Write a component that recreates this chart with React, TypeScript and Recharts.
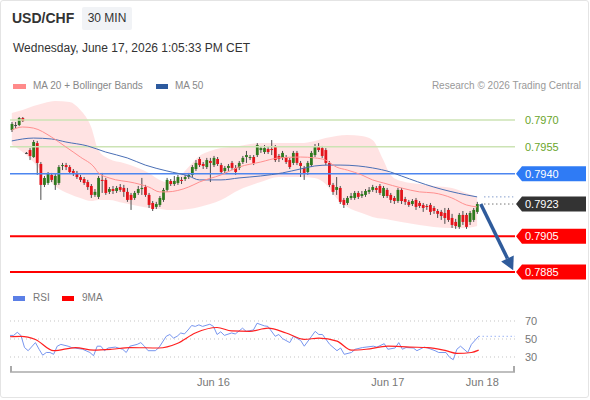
import React from "react"
import { ComposedChart, Bar, Line, Area, XAxis, YAxis, ReferenceLine } from "recharts"

const FONT = '"Liberation Sans", Arial, Helvetica, sans-serif'
const SLOT_COUNT = 140

// 30 min candles: [open, high, low, close]
const CANDLES: number[][] = [
  [0.79644, 0.79689, 0.79633, 0.79678], [0.79672, 0.79689, 0.79655, 0.79672], [0.79672, 0.79717, 0.79666, 0.79711], [0.79711, 0.79717, 0.79689, 0.79694],
  [0.79516, 0.79521, 0.79510, 0.79516], [0.79532, 0.79543, 0.79476, 0.79499], [0.79493, 0.79588, 0.79488, 0.79577], [0.79571, 0.79583, 0.79393, 0.79460],
  [0.79454, 0.79465, 0.79253, 0.79337], [0.79337, 0.79387, 0.79325, 0.79376], [0.79348, 0.79409, 0.79337, 0.79398], [0.79393, 0.79404, 0.79353, 0.79365],
  [0.79337, 0.79398, 0.79309, 0.79387], [0.79348, 0.79448, 0.79337, 0.79437], [0.79443, 0.79460, 0.79420, 0.79448], [0.79448, 0.79460, 0.79420, 0.79437],
  [0.79437, 0.79448, 0.79398, 0.79409], [0.79415, 0.79426, 0.79387, 0.79404], [0.79404, 0.79415, 0.79370, 0.79381], [0.79381, 0.79393, 0.79353, 0.79365],
  [0.79370, 0.79381, 0.79337, 0.79348], [0.79353, 0.79365, 0.79309, 0.79325], [0.79331, 0.79342, 0.79264, 0.79281], [0.79281, 0.79314, 0.79270, 0.79298],
  [0.79270, 0.79387, 0.79258, 0.79376], [0.79365, 0.79404, 0.79292, 0.79359], [0.79365, 0.79376, 0.79281, 0.79292], [0.79298, 0.79325, 0.79286, 0.79314],
  [0.79314, 0.79331, 0.79286, 0.79303], [0.79303, 0.79331, 0.79292, 0.79320], [0.79325, 0.79342, 0.79298, 0.79309], [0.79320, 0.79337, 0.79270, 0.79298],
  [0.79298, 0.79320, 0.79242, 0.79253], [0.79281, 0.79292, 0.79197, 0.79253], [0.79264, 0.79303, 0.79253, 0.79292], [0.79292, 0.79331, 0.79281, 0.79314],
  [0.79314, 0.79376, 0.79281, 0.79320], [0.79325, 0.79337, 0.79270, 0.79281], [0.79281, 0.79292, 0.79208, 0.79225], [0.79236, 0.79247, 0.79191, 0.79202],
  [0.79214, 0.79242, 0.79202, 0.79230], [0.79225, 0.79275, 0.79214, 0.79264], [0.79253, 0.79320, 0.79242, 0.79309], [0.79309, 0.79376, 0.79298, 0.79365],
  [0.79359, 0.79370, 0.79331, 0.79342], [0.79342, 0.79387, 0.79331, 0.79359], [0.79348, 0.79393, 0.79337, 0.79381], [0.79365, 0.79381, 0.79342, 0.79359],
  [0.79370, 0.79393, 0.79359, 0.79381], [0.79381, 0.79404, 0.79370, 0.79393], [0.79393, 0.79448, 0.79381, 0.79437], [0.79426, 0.79476, 0.79415, 0.79460],
  [0.79482, 0.79493, 0.79437, 0.79448], [0.79454, 0.79465, 0.79426, 0.79443], [0.79437, 0.79488, 0.79426, 0.79476], [0.79471, 0.79488, 0.79353, 0.79460],
  [0.79448, 0.79499, 0.79437, 0.79488], [0.79482, 0.79493, 0.79443, 0.79454], [0.79448, 0.79460, 0.79398, 0.79409], [0.79415, 0.79443, 0.79398, 0.79432],
  [0.79432, 0.79454, 0.79415, 0.79443], [0.79460, 0.79471, 0.79420, 0.79432], [0.79432, 0.79448, 0.79393, 0.79409], [0.79432, 0.79471, 0.79420, 0.79460],
  [0.79465, 0.79499, 0.79454, 0.79488], [0.79493, 0.79527, 0.79460, 0.79504], [0.79488, 0.79504, 0.79476, 0.79493], [0.79493, 0.79504, 0.79448, 0.79460],
  [0.79504, 0.79571, 0.79493, 0.79560], [0.79532, 0.79555, 0.79516, 0.79543], [0.79521, 0.79560, 0.79510, 0.79543], [0.79538, 0.79549, 0.79510, 0.79521],
  [0.79538, 0.79588, 0.79504, 0.79532], [0.79549, 0.79560, 0.79465, 0.79476], [0.79499, 0.79510, 0.79465, 0.79482], [0.79488, 0.79527, 0.79476, 0.79516],
  [0.79493, 0.79504, 0.79454, 0.79465], [0.79476, 0.79488, 0.79426, 0.79437], [0.79460, 0.79527, 0.79448, 0.79516], [0.79516, 0.79527, 0.79448, 0.79460],
  [0.79460, 0.79471, 0.79381, 0.79443], [0.79432, 0.79443, 0.79365, 0.79404], [0.79409, 0.79471, 0.79393, 0.79460], [0.79448, 0.79527, 0.79437, 0.79516],
  [0.79504, 0.79566, 0.79493, 0.79549], [0.79549, 0.79571, 0.79521, 0.79532], [0.79543, 0.79555, 0.79488, 0.79499], [0.79532, 0.79543, 0.79448, 0.79460],
  [0.79460, 0.79471, 0.79325, 0.79337], [0.79337, 0.79348, 0.79281, 0.79298], [0.79309, 0.79381, 0.79281, 0.79325], [0.79320, 0.79331, 0.79230, 0.79242],
  [0.79253, 0.79264, 0.79208, 0.79225], [0.79236, 0.79275, 0.79225, 0.79264], [0.79264, 0.79292, 0.79253, 0.79275], [0.79264, 0.79303, 0.79253, 0.79292],
  [0.79292, 0.79303, 0.79258, 0.79270], [0.79275, 0.79303, 0.79264, 0.79286], [0.79281, 0.79314, 0.79270, 0.79303], [0.79298, 0.79325, 0.79286, 0.79309],
  [0.79309, 0.79337, 0.79298, 0.79325], [0.79320, 0.79331, 0.79292, 0.79309], [0.79331, 0.79342, 0.79281, 0.79292], [0.79275, 0.79331, 0.79264, 0.79320],
  [0.79309, 0.79320, 0.79264, 0.79275], [0.79281, 0.79292, 0.79236, 0.79253], [0.79264, 0.79275, 0.79230, 0.79247], [0.79247, 0.79320, 0.79236, 0.79309],
  [0.79309, 0.79320, 0.79230, 0.79247], [0.79258, 0.79270, 0.79225, 0.79242], [0.79242, 0.79253, 0.79214, 0.79225], [0.79230, 0.79258, 0.79219, 0.79247],
  [0.79253, 0.79264, 0.79197, 0.79214], [0.79236, 0.79247, 0.79208, 0.79219], [0.79225, 0.79236, 0.79186, 0.79208], [0.79219, 0.79230, 0.79197, 0.79214],
  [0.79225, 0.79236, 0.79169, 0.79186], [0.79208, 0.79219, 0.79175, 0.79191], [0.79191, 0.79202, 0.79152, 0.79175], [0.79186, 0.79197, 0.79141, 0.79163],
  [0.79180, 0.79208, 0.79119, 0.79152], [0.79197, 0.79208, 0.79130, 0.79141], [0.79152, 0.79175, 0.79096, 0.79113], [0.79130, 0.79147, 0.79091, 0.79107],
  [0.79102, 0.79180, 0.79091, 0.79169], [0.79169, 0.79191, 0.79113, 0.79130], [0.79169, 0.79180, 0.79091, 0.79102], [0.79130, 0.79191, 0.79113, 0.79180],
  [0.79141, 0.79208, 0.79130, 0.79197], [0.79186, 0.79242, 0.79175, 0.79230],
]

// [slot, value]
const MA20: number[][] = [
  [0, 0.79644], [3, 0.79661], [6, 0.79655], [11, 0.79605], [15, 0.79549], [19, 0.79493], [23, 0.79432], [24, 0.79404],
  [27, 0.79376], [34, 0.79348], [38, 0.79325], [41, 0.79298], [43, 0.79298], [49, 0.79325], [52, 0.79353], [58, 0.79393],
  [63, 0.79437], [69, 0.79465], [74, 0.79488], [80, 0.79493], [84, 0.79488], [87, 0.79476], [90, 0.79437], [93, 0.79420],
  [97, 0.79393], [100, 0.79365], [103, 0.79348], [108, 0.79320], [113, 0.79298], [117, 0.79292], [122, 0.79264], [126, 0.79225],
  [129, 0.79214],
]

const MA50: number[][] = [
  [0, 0.79583], [6, 0.79599], [11, 0.79594], [15, 0.79577], [21, 0.79555], [26, 0.79521], [32, 0.79488], [37, 0.79448],
  [43, 0.79415], [49, 0.79387], [52, 0.79365], [58, 0.79365], [63, 0.79376], [69, 0.79387], [75, 0.79404], [80, 0.79426],
  [84, 0.79443], [88, 0.79448], [91, 0.79448], [96, 0.79443], [100, 0.79432], [105, 0.79409], [108, 0.79387], [117, 0.79325],
  [126, 0.79281], [129, 0.79270],
]

// [slot, upper, lower]
const BOLLINGER: number[][] = [
  [0, 0.79739, 0.79560], [3, 0.79756, 0.79521], [6, 0.79778, 0.79465], [9, 0.79795, 0.79393], [12, 0.79806, 0.79331],
  [16, 0.79801, 0.79286], [19, 0.79756, 0.79264], [22, 0.79661, 0.79247], [24, 0.79532, 0.79253], [27, 0.79482, 0.79253],
  [31, 0.79460, 0.79236], [35, 0.79432, 0.79219], [38, 0.79404, 0.79208], [41, 0.79365, 0.79202], [43, 0.79353, 0.79197],
  [46, 0.79376, 0.79197], [49, 0.79437, 0.79202], [52, 0.79499, 0.79214], [55, 0.79527, 0.79230], [58, 0.79543, 0.79253],
  [63, 0.79555, 0.79309], [69, 0.79571, 0.79353], [74, 0.79571, 0.79381], [80, 0.79571, 0.79381], [84, 0.79583, 0.79376],
  [87, 0.79599, 0.79342], [90, 0.79611, 0.79264], [93, 0.79616, 0.79214], [97, 0.79611, 0.79180], [100, 0.79588, 0.79158],
  [103, 0.79476, 0.79147], [105, 0.79393, 0.79141], [108, 0.79359, 0.79130], [113, 0.79342, 0.79113], [117, 0.79331, 0.79102],
  [122, 0.79320, 0.79096], [126, 0.79292, 0.79096], [129, 0.79270, 0.79107],
]

const RSI: number[][] = [
  [0, 54], [1, 54], [2, 57.4], [3, 54], [4, 40.5], [5, 37], [7, 46], [8, 38.6], [9, 32], [10, 35], [11, 35], [12, 33],
  [13, 42], [14, 44], [16, 42], [17, 40.5], [20, 38.6], [22, 35], [23, 31.4], [24, 42], [25, 42], [26, 37], [27, 40],
  [29, 41], [31, 38.6], [32, 35], [33, 42], [35, 44], [36, 46], [37, 42], [38, 37], [40, 37], [41, 40.5], [43, 53],
  [44, 55], [45, 51], [46, 53], [47, 56.7], [48, 55.6], [49, 60], [50, 65], [51, 64], [52, 65.7], [53, 64], [55, 66.4],
  [56, 64], [57, 55], [58, 58], [59, 54], [61, 56.7], [62, 55.6], [64, 62], [65, 58.5], [67, 60], [68, 67.5], [70, 64.6],
  [71, 64], [73, 53], [74, 55], [75, 50.5], [77, 46], [78, 53], [80, 48.4], [81, 42], [83, 53], [84, 58.5], [85, 55],
  [86, 55], [88, 44], [90, 37], [91, 40], [92, 33], [94, 35], [95, 38.6], [97, 40.5], [98, 41], [100, 42], [101, 41],
  [103, 44.8], [104, 38.6], [106, 40], [107, 46], [108, 38.6], [109, 40.5], [111, 40], [112, 37], [114, 41], [115, 40],
  [117, 37], [118, 35], [120, 35], [121, 29.6], [122, 27], [123, 38.6], [124, 42], [126, 35], [127, 44], [129, 53],
]

const RSI_MA: number[][] = [
  [0, 52.5], [3, 53], [7, 49.5], [12, 37], [18, 40.5], [23, 37.6], [28, 38.6], [33, 40.5], [41, 40], [46, 45],
  [51, 56.7], [57, 62.8], [61, 59], [66, 58.5], [71, 62], [76, 56.7], [81, 49.5], [85, 51], [90, 47.6], [94, 37.6],
  [98, 38.6], [104, 42], [110, 41], [115, 40.5], [120, 37], [123, 34], [127, 35], [129, 37.6],
]

const DATE_LABELS: Record<number, string> = { 56: "Jun 16", 104: "Jun 17", 130: "Jun 18" }

const LAST_PRICE = 0.7923
const LAST_MA50 = 0.7927
const TARGET = 0.7886

const priceData: any[] = Array.from({ length: SLOT_COUNT }, (_, i) => {
  const c = CANDLES[i]
  return {
    slot: i,
    range: c ? [c[2], c[1]] : null,
    open: c ? c[0] : null,
    close: c ? c[3] : null,
    ma20: null,
    ma50: null,
    band: null,
  }
})
MA20.forEach(([s, v]) => (priceData[s].ma20 = v))
MA50.forEach(([s, v]) => (priceData[s].ma50 = v))
BOLLINGER.forEach(([s, up, lo]) => (priceData[s].band = [lo, up]))

const rsiData: any[] = Array.from({ length: SLOT_COUNT }, (_, i) => ({ slot: i, rsi: null, rsiMa: null }))
RSI.forEach(([s, v]) => (rsiData[s].rsi = v))
RSI_MA.forEach(([s, v]) => (rsiData[s].rsiMa = v))

const Candle = (props: any) => {
  const { x, y, width, height, payload } = props
  if (!payload || !payload.range || height == null) return null
  const [low, high] = payload.range
  const top = Math.min(y, y + height)
  const bottom = Math.max(y, y + height)
  const k = high === low ? 0 : (bottom - top) / (high - low)
  const yo = top + (high - payload.open) * k
  const yc = top + (high - payload.close) * k
  const up = payload.close > payload.open
  const flat = payload.close === payload.open
  const cx = x + width / 2
  return (
    <g>
      <line x1={cx} x2={cx} y1={top} y2={bottom} stroke="#4d4d4d" strokeWidth={1} />
      <rect
        x={cx - 1.4}
        y={Math.min(yo, yc)}
        width={2.8}
        height={Math.max(1, Math.abs(yc - yo))}
        fill={flat ? "#444" : up ? "#2f7a1f" : "#e3141b"}
      />
    </g>
  )
}

const PriceTag = ({ viewBox, text, bg, color }: any) => {
  if (!viewBox) return null
  const x = viewBox.x + viewBox.width + 1
  const y = viewBox.y
  if (!bg) {
    return (
      <text x={x + 9} y={y + 4} fill={color} fontSize={11} fontFamily={FONT}>
        {text}
      </text>
    )
  }
  return (
    <g>
      <polygon points={`${x},${y} ${x + 6},${y - 7.5} ${x + 70},${y - 7.5} ${x + 70},${y + 7.5} ${x + 6},${y + 7.5}`} fill={bg} />
      <text x={x + 9} y={y + 4} fill="#fff" fontSize={11} fontFamily={FONT}>
        {text}
      </text>
    </g>
  )
}

const RsiTag = ({ viewBox, text }: any) => {
  if (!viewBox) return null
  return (
    <text x={viewBox.x + viewBox.width + 10} y={viewBox.y + 4} fill="#777" fontSize={11} fontFamily={FONT}>
      {text}
    </text>
  )
}

const Arrow = (props: any) => {
  const { x1, y1, x2, y2 } = props
  if ([x1, y1, x2, y2].some((v) => typeof v !== "number" || isNaN(v))) return null
  const ang = Math.atan2(y2 - y1, x2 - x1)
  const len = 13
  const half = 7
  const bx = x2 - len * Math.cos(ang)
  const by = y2 - len * Math.sin(ang)
  const px = -Math.sin(ang) * half
  const py = Math.cos(ang) * half
  return (
    <g>
      <line x1={x1} y1={y1} x2={bx} y2={by} stroke="#2f5b9b" strokeWidth={3.5} />
      <polygon points={`${x2},${y2} ${bx + px},${by + py} ${bx - px},${by - py}`} fill="#2f5b9b" />
    </g>
  )
}

const legendText: React.CSSProperties = { position: "absolute", fontSize: 10, color: "#888", lineHeight: "12px" }

export default function App() {
  return (
    <div style={{ position: "absolute", left: 0, top: 0, width: 590, height: 400, background: "#fff", fontFamily: FONT }}>
      <div style={{ position: "absolute", left: 0, top: 0, width: 587, height: 396, border: "1px solid #e4e4e4", borderRadius: 3 }} />
      <div style={{ position: "absolute", left: 12, top: 10, fontSize: 14, fontWeight: "bold", color: "#333" }}>USD/CHF</div>
      <div style={{ position: "absolute", left: 82, top: 7, width: 50, height: 23, background: "#f1f3f6", borderRadius: 2, fontSize: 12, color: "#333", lineHeight: "23px", textAlign: "center" }}>30 MIN</div>
      <div style={{ position: "absolute", left: 13, top: 41, fontSize: 12, color: "#333" }}>Wednesday, June 17, 2026 1:05:33 PM CET</div>

      <div style={{ position: "absolute", left: 13, top: 84, width: 13, height: 5, background: "#ff8a8a" }} />
      <div style={{ ...legendText, left: 33, top: 80 }}>MA 20 + Bollinger Bands</div>
      <div style={{ position: "absolute", left: 156, top: 84, width: 12, height: 5, background: "#2d5a9e" }} />
      <div style={{ ...legendText, left: 175, top: 80 }}>MA 50</div>
      <div style={{ ...legendText, right: 9, top: 80, color: "#999" }}>Research © 2026 Trading Central</div>

      <div style={{ position: "absolute", left: 0, top: 95 }}>
        <ComposedChart width={590} height={190} data={priceData} margin={{ top: 0, right: 75, bottom: 0, left: 10 }} barCategoryGap={0}>
          <XAxis dataKey="slot" hide />
          <YAxis hide domain={[0.78777, 0.7984]} allowDataOverflow />
          <Area dataKey="band" type="monotone" connectNulls fill="#ffd9d9" fillOpacity={0.75} stroke="none" isAnimationActive={false} />
          <ReferenceLine y={0.797} stroke="#cce3b4" strokeWidth={1.5} label={<PriceTag text="0.7970" color="#6aa52b" />} />
          <ReferenceLine y={0.7955} stroke="#cce3b4" strokeWidth={1.5} label={<PriceTag text="0.7955" color="#6aa52b" />} />
          <ReferenceLine y={0.794} stroke="#4d86f0" strokeWidth={1.5} label={<PriceTag text="0.7940" bg="#2f7bf5" />} />
          <ReferenceLine y={0.7905} stroke="#ff0000" strokeWidth={2} label={<PriceTag text="0.7905" bg="#ff0000" />} />
          <ReferenceLine y={0.7885} stroke="#ff0000" strokeWidth={2} label={<PriceTag text="0.7885" bg="#ff0000" />} />
          <ReferenceLine y={LAST_PRICE} strokeOpacity={0} label={<PriceTag text="0.7923" bg="#333333" />} />
          <ReferenceLine segment={[{ x: 131, y: LAST_MA50 }, { x: 139, y: LAST_MA50 }]} stroke="#4a6fb5" strokeDasharray="1 3" />
          <ReferenceLine segment={[{ x: 131, y: LAST_PRICE }, { x: 139, y: LAST_PRICE }]} stroke="#333" strokeDasharray="1 3" />
          <Line dataKey="ma50" type="monotone" connectNulls dot={false} stroke="#4a6fb5" strokeWidth={1} isAnimationActive={false} />
          <Line dataKey="ma20" type="monotone" connectNulls dot={false} stroke="#ff8f8f" strokeWidth={1} isAnimationActive={false} />
          <Bar dataKey="range" shape={<Candle />} isAnimationActive={false} />
          <ReferenceLine segment={[{ x: 130, y: LAST_PRICE }, { x: 139, y: TARGET }]} shape={Arrow} />
        </ComposedChart>
      </div>

      <div style={{ position: "absolute", left: 13, top: 296, width: 12, height: 5, background: "#5b7fe6" }} />
      <div style={{ ...legendText, left: 33, top: 292, color: "#777" }}>RSI</div>
      <div style={{ position: "absolute", left: 62, top: 296, width: 12, height: 5, background: "#ff0000" }} />
      <div style={{ ...legendText, left: 82, top: 292, color: "#777" }}>9MA</div>

      <div style={{ position: "absolute", left: 0, top: 303 }}>
        <ComposedChart width={590} height={89} data={rsiData} margin={{ top: 0, right: 75, bottom: 0, left: 10 }}>
          <XAxis
            dataKey="slot"
            interval={0}
            tickLine={false}
            tickSize={4}
            height={20}
            axisLine={{ stroke: "#aaa", strokeWidth: 1.5 }}
            tick={{ fontSize: 11, fill: "#777", fontFamily: FONT }}
            tickFormatter={(v: number) => DATE_LABELS[v] ?? ""}
          />
          <YAxis hide domain={[13.33, 90]} allowDataOverflow />
          <ReferenceLine y={70} stroke="#c4c4c4" strokeDasharray="1 3" label={<RsiTag text="70" />} />
          <ReferenceLine y={50} stroke="#c4c4c4" strokeDasharray="1 3" label={<RsiTag text="50" />} />
          <ReferenceLine y={30} stroke="#c4c4c4" strokeDasharray="1 3" label={<RsiTag text="30" />} />
          <ReferenceLine segment={[{ x: 129, y: 53 }, { x: 139, y: 53 }]} stroke="#6a8ef0" strokeDasharray="1 3" />
          <Line dataKey="rsi" type="linear" connectNulls dot={false} stroke="#7795ee" strokeWidth={1} isAnimationActive={false} />
          <Line dataKey="rsiMa" type="monotone" connectNulls dot={false} stroke="#ff2020" strokeWidth={1.2} isAnimationActive={false} />
        </ComposedChart>
      </div>
      <div style={{ position: "absolute", left: 10, top: 366, width: 1.5, height: 6, background: "#aaa" }} />
      <div style={{ position: "absolute", left: 513, top: 366, width: 1.5, height: 6, background: "#aaa" }} />
    </div>
  )
}
